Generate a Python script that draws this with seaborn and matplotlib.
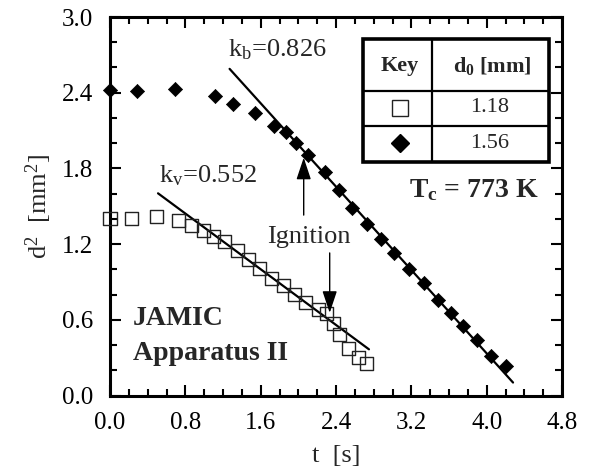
import numpy as np
import pandas as pd
import matplotlib
matplotlib.use("Agg")
import matplotlib.pyplot as plt
import seaborn as sns
from matplotlib.lines import Line2D
from matplotlib.patches import Rectangle
from matplotlib.ticker import MultipleLocator, FormatStrFormatter

# ---------------- data ----------------
t_small = [0.00, 0.23, 0.49, 0.73, 0.87, 0.99, 1.10, 1.22, 1.35, 1.47, 1.59,
           1.72, 1.84, 1.96, 2.08, 2.21, 2.30, 2.37, 2.44, 2.53, 2.64, 2.72]
d2_small = [1.40, 1.40, 1.42, 1.39, 1.35, 1.31, 1.26, 1.22, 1.15, 1.08, 1.01,
            0.93, 0.87, 0.80, 0.74, 0.68, 0.65, 0.57, 0.48, 0.37, 0.30, 0.25]

t_large = [0.00, 0.29, 0.69, 1.11, 1.31, 1.54, 1.74, 1.87, 1.97, 2.10, 2.28, 2.43,
           2.57, 2.73, 2.88, 3.02, 3.17, 3.33, 3.48, 3.62, 3.75, 3.90, 4.05, 4.21]
d2_large = [2.42, 2.415, 2.43, 2.37, 2.31, 2.24, 2.14, 2.09, 2.00, 1.91, 1.77, 1.63,
            1.49, 1.36, 1.24, 1.13, 1.00, 0.89, 0.76, 0.65, 0.55, 0.44, 0.31, 0.235]

kb, kb_icpt, kb_trange = 0.826, 3.638, [1.27, 4.28]
kv, kv_icpt, kv_trange = 0.552, 1.884, [0.51, 2.75]

x_ticks = [0.0, 0.8, 1.6, 2.4, 3.2, 4.0, 4.8]
y_ticks = [0.0, 0.6, 1.2, 1.8, 2.4, 3.0]
key_d0 = ["1.18", "1.56"]

# ---------------- style ----------------
sns.set_theme(style="ticks")
plt.rcParams["font.family"] = ["Liberation Serif", "DejaVu Serif"]
plt.rcParams["mathtext.fontset"] = "custom"
plt.rcParams["mathtext.rm"] = "Liberation Serif"
plt.rcParams["mathtext.it"] = "Liberation Serif"
plt.rcParams["mathtext.bf"] = "Liberation Serif:bold"

W, H = 593, 474
fig = plt.figure(figsize=(W / 100, H / 100), dpi=100)
ax = fig.add_axes([110 / W, 1 - 395.5 / H, (562 - 110) / W, (395.5 - 17) / H])


def px(x, y):
    return (x / W, 1 - y / H)


# fit lines
tb = np.array(kb_trange)
tv = np.array(kv_trange)
sns.lineplot(x=tb, y=kb_icpt - kb * tb, ax=ax, color="black", lw=1.6, legend=False)
sns.lineplot(x=tv, y=kv_icpt - kv * tv, ax=ax, color="black", lw=1.6, legend=False)

# data
sns.scatterplot(x=t_small, y=d2_small, ax=ax, marker="s", s=88,
                facecolors="none", edgecolor="#222222", linewidth=1.0, zorder=3,
                clip_on=False)
sns.scatterplot(x=t_large, y=d2_large, ax=ax, marker="D", s=52,
                color="black", edgecolor="black", linewidth=0.5, zorder=4,
                clip_on=False)

ax.set_xlim(0, 4.8)
ax.set_ylim(0, 3.0)
ax.set_xticks(x_ticks)
ax.set_yticks(y_ticks)
ax.xaxis.set_major_formatter(FormatStrFormatter("%.1f"))
ax.yaxis.set_major_formatter(FormatStrFormatter("%.1f"))
ax.xaxis.set_minor_locator(MultipleLocator(0.2))
ax.yaxis.set_minor_locator(MultipleLocator(0.2))
ax.tick_params(which="both", direction="in", top=True, right=True,
               width=1.5, colors="black", labelsize=18)
ax.tick_params(which="major", length=8)
ax.tick_params(which="minor", length=5)
ax.tick_params(axis="y", pad=12)
ax.tick_params(axis="x", pad=12)
for sp in ax.spines.values():
    sp.set_linewidth(2.2)
    sp.set_color("black")

ax.set_xlabel("t  [s]", fontsize=19, labelpad=8)
ax.set_ylabel("d$^2$  [mm$^2$]", fontsize=19, labelpad=6)

# annotations
ax.text(1.25, 2.686, r"k$_{\rm b}$=0.826", fontsize=19, va="baseline", ha="left")
ax.text(0.52, 1.687, r"k$_{\rm v}$=0.552", fontsize=19, va="baseline", ha="left")
ax.text(2.11, 1.21, "Ignition", fontsize=19, va="baseline", ha="center")
ax.text(0.244, 0.56, "JAMIC", fontsize=20, fontweight="bold", va="baseline", ha="left")
ax.text(0.244, 0.282, "Apparatus II", fontsize=20, fontweight="bold", va="baseline", ha="left")
ax.text(3.18, 1.575, r"$\mathbf{T_c}$ = 773 K", fontsize=20, fontweight="bold",
        va="baseline", ha="left")

arrow_kw = dict(arrowstyle="-|>,head_length=0.9,head_width=0.3", lw=1.0, color="black",
                mutation_scale=15, shrinkA=0, shrinkB=0)
ax.annotate("", xy=(2.057, 1.885), xytext=(2.057, 1.43), arrowprops=arrow_kw)
ax.annotate("", xy=(2.333, 0.655), xytext=(2.333, 1.13), arrowprops=arrow_kw)

# key table (figure coordinates)
x0, y0 = px(363, 162)
x1, y1 = px(549, 39)
fig.add_artist(Rectangle((x0, y0), x1 - x0, y1 - y0, transform=fig.transFigure,
                         fill=True, facecolor="white", edgecolor="black", lw=2.6, zorder=5))
for (a, b) in [((363, 91), (549, 91)), ((363, 126), (549, 126)), ((432, 39), (432, 162))]:
    pa, pb = px(*a), px(*b)
    fig.add_artist(Line2D([pa[0], pb[0]], [pa[1], pb[1]], transform=fig.transFigure,
                          color="black", lw=1.6, zorder=6))
fig.text(*px(400, 66), "Key", fontsize=16, fontweight="bold", ha="center", va="center", zorder=7)
fig.text(*px(492, 66), r"d$_{\mathbf{0}}$ [mm]", fontsize=16, fontweight="bold",
         ha="center", va="center", zorder=7)
fig.text(*px(490, 108), key_d0[0], fontsize=16, ha="center", va="center", zorder=7)
fig.text(*px(490, 143), key_d0[1], fontsize=16, ha="center", va="center", zorder=7)
p = px(400, 108)
fig.add_artist(Line2D([p[0]], [p[1]], transform=fig.transFigure, marker="s", ms=12,
                      mfc="white", mec="#222222", mew=1.0, zorder=7))
p = px(400, 143)
fig.add_artist(Line2D([p[0]], [p[1]], transform=fig.transFigure, marker="D", ms=9.5,
                      mfc="black", mec="black", zorder=7))

fig.savefig("out.png", dpi=100)
